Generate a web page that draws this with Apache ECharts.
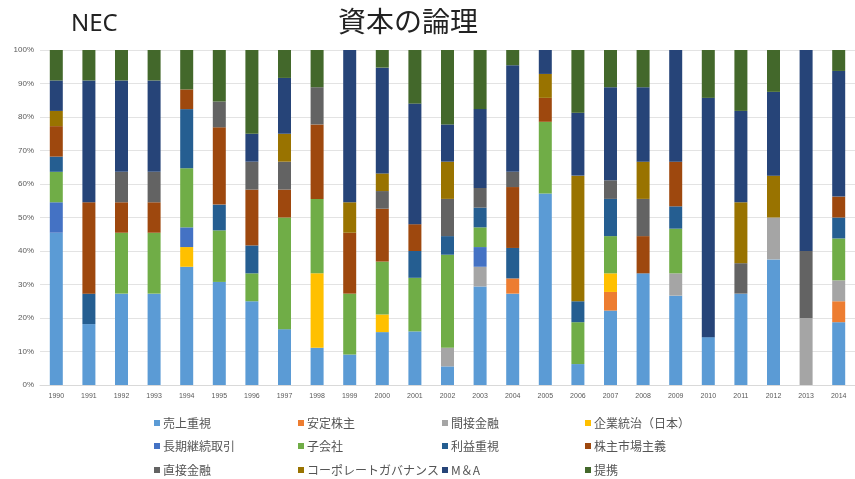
<!DOCTYPE html>
<html><head><meta charset="utf-8">
<script src="https://cdn.jsdelivr.net/npm/echarts@6/dist/echarts.min.js"></script>
<style>html,body{margin:0;padding:0;background:#fff}#c{width:855px;height:479px}</style>
</head><body><div id="c"></div>
<script>
const years = ['1990','1991','1992','1993','1994','1995','1996','1997','1998','1999','2000','2001','2002','2003','2004','2005','2006','2007','2008','2009','2010','2011','2012','2013','2014'];
const seriesNames = ['売上重視','安定株主','間接金融','企業統治（日本）','長期継続取引','子会社','利益重視','株主市場主義','直接金融','コーポレートガバナンス','M＆A','提携'];
const colors = ['#5B9BD5','#ED7D31','#A5A5A5','#FFC000','#4472C4','#70AD47','#255E91','#9E480E','#636363','#997300','#264478','#43682B'];
const yTicks = [0,10,20,30,40,50,60,70,80,90,100];
// counts per year
const s_uriage   = [10,2,3,3,6, 4,3,2,1,1, 3,4,1,5,6, 8,1,4,3,4, 1,3,3,0,3];
const s_antei    = [0,0,0,0,0, 0,0,0,0,0, 0,0,0,0,1, 0,0,1,0,0, 0,0,0,0,1];
const s_kansetsu = [0,0,0,0,0, 0,0,0,0,0, 0,0,1,1,0, 0,0,0,0,1, 0,0,1,1,1];
const s_tochi    = [0,0,0,0,1, 0,0,0,2,0, 1,0,0,0,0, 0,0,1,0,0, 0,0,0,0,0];
const s_choki    = [2,0,0,0,1, 0,0,0,0,0, 0,0,0,1,0, 0,0,0,0,0, 0,0,0,0,0];
const s_kogaisha = [2,0,2,2,3, 2,1,4,2,2, 3,4,5,1,0, 3,2,2,0,2, 0,0,0,0,2];
const s_rieki    = [1,1,0,0,3, 1,1,0,0,0, 0,2,1,1,2, 0,1,2,0,1, 0,0,0,0,1];
const s_kabunushi= [2,3,1,1,1, 3,2,1,2,2, 3,2,0,0,4, 1,0,0,1,2, 0,0,0,0,1];
const s_chokusetsu=[0,0,1,1,0, 1,1,1,1,0, 1,0,2,1,1, 0,0,1,1,0, 0,1,0,1,0];
const s_cg       = [1,0,0,0,0, 0,0,1,0,1, 1,0,2,0,0, 1,6,0,1,0, 0,2,1,0,0];
const s_ma       = [2,4,3,3,0, 0,1,2,0,5, 6,9,2,4,7, 1,3,5,2,5, 5,3,2,3,6];
const s_teikei   = [2,1,1,1,2, 2,3,1,1,0, 1,4,4,3,1, 0,3,2,1,0, 1,2,1,0,1];

const raw = [s_uriage,s_antei,s_kansetsu,s_tochi,s_choki,s_kogaisha,s_rieki,s_kabunushi,s_chokusetsu,s_cg,s_ma,s_teikei];
const totals = years.map((_,i)=>raw.reduce((a,s)=>a+s[i],0));

const chart = echarts.init(document.getElementById('c'));
const series = raw.map((s,k)=>({
  name: seriesNames[k], type:'bar', stack:'all', barWidth:13,
  itemStyle:{color:colors[k]},
  data: s.map((v,i)=>v/totals[i]*100)
}));
const cols = [154,298,442,585];
const rows = [417,440,464];
const legends = seriesNames.map((n,k)=>({
  left:cols[k%4], top:rows[Math.floor(k/4)], itemWidth:6, itemHeight:6,
  icon:'rect', padding:0, textStyle:{fontSize:12,color:'#555',fontFamily:'Noto Sans CJK JP',padding:[0,0,0,-2]},
  data:[n]
}));
chart.setOption({
  animation:false,
  color:colors,
  title:[
    {text:'NEC',left:66,top:7,textStyle:{fontSize:24,fontWeight:'normal',color:'#222',fontFamily:'Noto Sans'}},
    {text:'資本の論理',left:403,top:2,textAlign:'center',textStyle:{fontSize:28,fontWeight:'normal',color:'#222',fontFamily:'Noto Sans CJK JP'}}
  ],
  legend:legends,
  grid:{left:40,top:50,width:818,height:335},
  xAxis:{type:'category',data:years,
    axisLine:{lineStyle:{color:'#d9d9d9'}},axisTick:{show:false},
    axisLabel:{fontSize:7,color:'#595959',margin:8,interval:0}},
  yAxis:{type:'value',min:0,max:100,interval:10,
    axisLabel:{formatter:v=>v+'%',fontSize:8,color:'#595959',margin:6},
    splitLine:{lineStyle:{color:'#e3e3e3'}}},
  series:series
});
</script></body></html>
